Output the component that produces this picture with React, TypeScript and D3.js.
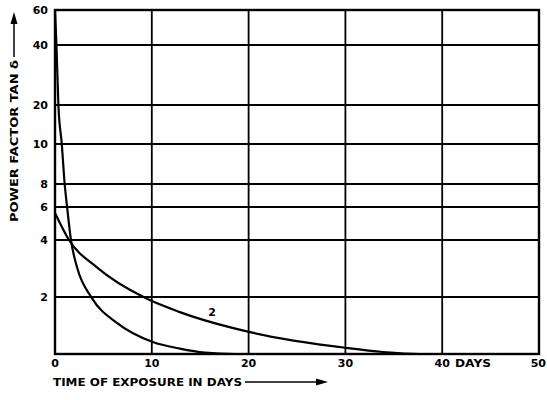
import React from 'react';
import * as d3 from 'd3';

// y axis is a hand drawn, uneven scale: every labelled value gets its own pixel row
const yTickValues = [0, 2, 4, 6, 8, 10, 20, 40, 60];
const yTickLabels = ['', '2', '4', '6', '8', '10', '20', '40', '60'];
const yGridValues = [2, 4, 6, 8, 10, 20, 40];

const xTickValues = [0, 10, 20, 30, 40, 50];
const xTickLabels = ['0', '10', '20', '30', '40', '50'];
const xGridValues = [10, 20, 30, 40];

// curve 1 (fast decay)
const curve1Days = [0, 0.15, 0.35, 0.7, 1.0, 1.25, 1.65, 2.27, 3.8, 6.4, 10.1, 12.9, 15.5, 18.6, 20];
const curve1Tan = [60, 40, 20, 10, 8, 6, 4, 3.05, 1.97, 1.09, 0.42, 0.19, 0.05, 0, 0];

// curve 2
const curve2Days = [0, 1.45, 4.3, 9.3, 12.9, 20.5, 30.2, 33.9, 37.7, 40];
const curve2Tan = [5.64, 4.0, 3.05, 1.97, 1.47, 0.74, 0.21, 0.07, 0, 0];

const W = 547;
const H = 400;
const left = 55, right = 539, top = 10, bottom = 354;

const font = "'DejaVu Sans', sans-serif";

export default function App() {
  const x = d3.scaleLinear().domain([0, 50]).range([left, right]);
  const y = d3.scaleLinear()
    .domain(yTickValues)
    .range([354, 297, 240, 207, 184, 144, 105, 45, 10]);

  const line = d3.line<[number, number]>()
    .x(d => x(d[0]))
    .y(d => y(d[1]))
    .curve(d3.curveMonotoneX);

  const c1 = curve1Days.map((d, i) => [d, curve1Tan[i]] as [number, number]);
  const c2 = curve2Days.map((d, i) => [d, curve2Tan[i]] as [number, number]);

  return (
    <svg width={W} height={H} style={{ position: 'absolute', left: 0, top: 0, background: '#fff' }}>
      {/* grid */}
      {yGridValues.map(v => (
        <line key={'h' + v} x1={left} x2={right} y1={y(v)} y2={y(v)} stroke="#000" strokeWidth={1.8} />
      ))}
      {xGridValues.map(v => (
        <line key={'v' + v} x1={x(v)} x2={x(v)} y1={top} y2={bottom} stroke="#000" strokeWidth={1.8} />
      ))}
      {/* frame */}
      <rect x={left} y={top} width={right - left} height={bottom - top} fill="none" stroke="#000" strokeWidth={2.4} />

      {/* curves */}
      <path d={line(c1) || ''} fill="none" stroke="#000" strokeWidth={2.2} />
      <path d={line(c2) || ''} fill="none" stroke="#000" strokeWidth={2.2} />
      <text x={212} y={316} fontFamily={font} fontWeight="bold" fontSize={11} textAnchor="middle">2</text>

      {/* y tick labels */}
      {yTickValues.map((v, i) => yTickLabels[i] && (
        <text key={'yl' + v} x={48} y={y(v) + 4} textAnchor="end"
          fontFamily={font} fontWeight="bold" fontSize={11}>{yTickLabels[i]}</text>
      ))}

      {/* x tick labels */}
      {xTickValues.map((v, i) => (
        <text key={'xl' + v} x={v === 50 ? 546 : x(v)} y={367} textAnchor={v === 50 ? 'end' : 'middle'}
          fontFamily={font} fontWeight="bold" fontSize={11}>{xTickLabels[i]}</text>
      ))}
      <text x={455} y={367} fontFamily={font} fontWeight="bold" fontSize={10}
        textLength={36} lengthAdjust="spacingAndGlyphs">DAYS</text>

      {/* x title */}
      <text x={53} y={386} fontFamily={font} fontWeight="bold" fontSize={10}
        textLength={189} lengthAdjust="spacingAndGlyphs">TIME OF EXPOSURE IN DAYS</text>
      <line x1={245} x2={318} y1={382} y2={382} stroke="#000" strokeWidth={1.5} />
      <path d="M316,378.5 L328,382 L316,385.5 Z" fill="#000" />

      {/* y title */}
      <text transform="translate(18,222) rotate(-90)" fontFamily={font} fontWeight="bold" fontSize={10}
        textLength={162} lengthAdjust="spacingAndGlyphs">POWER FACTOR TAN δ</text>
      <line x1={14} x2={14} y1={57} y2={22} stroke="#000" strokeWidth={1.5} />
      <path d="M10.5,24 L14,12 L17.5,24 Z" fill="#000" />
    </svg>
  );
}
